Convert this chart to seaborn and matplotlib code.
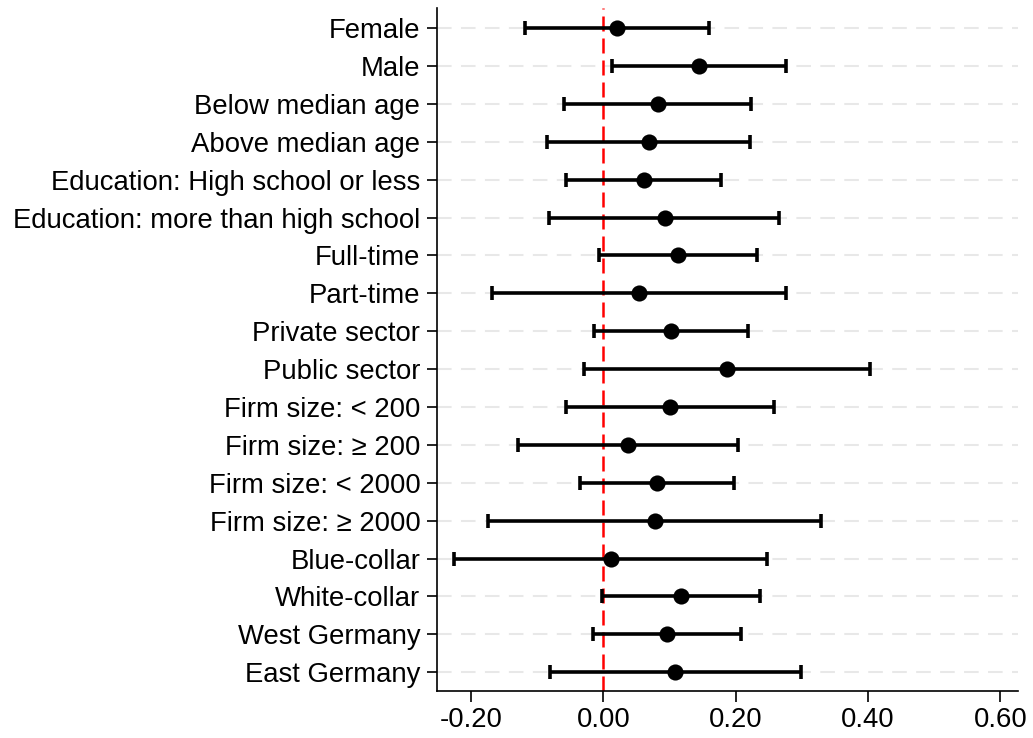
import numpy as np
import pandas as pd
import seaborn as sns
import matplotlib.pyplot as plt

labels = ['Female', 'Male', 'Below median age', 'Above median age',
          'Education: High school or less', 'Education: more than high school',
          'Full-time', 'Part-time', 'Private sector', 'Public sector',
          'Firm size: < 200', 'Firm size: \u2265 200', 'Firm size: < 2000',
          'Firm size: \u2265 2000', 'Blue-collar', 'White-collar',
          'West Germany', 'East Germany']
estimate = [0.021, 0.145, 0.082, 0.069, 0.061, 0.093, 0.113, 0.054, 0.102,
            0.187, 0.101, 0.037, 0.081, 0.078, 0.012, 0.118, 0.096, 0.108]
ci_low = [-0.118, 0.013, -0.059, -0.085, -0.056, -0.082, -0.006, -0.169, -0.014,
          -0.030, -0.057, -0.129, -0.036, -0.175, -0.225, -0.002, -0.016, -0.081]
ci_high = [0.160, 0.276, 0.223, 0.221, 0.178, 0.266, 0.233, 0.276, 0.218,
           0.403, 0.258, 0.203, 0.198, 0.329, 0.248, 0.237, 0.208, 0.298]
xticks = [-0.20, 0.00, 0.20, 0.40, 0.60]

df = pd.DataFrame({'group': labels, 'est': estimate, 'lo': ci_low, 'hi': ci_high})

sns.set_style('white')
plt.rcParams['font.family'] = ['Liberation Sans', 'DejaVu Sans']
plt.rcParams['text.color'] = 'black'
plt.rcParams['xtick.color'] = 'black'
plt.rcParams['ytick.color'] = 'black'

fig = plt.figure(figsize=(10.33, 7.38), dpi=100)
ax = fig.add_axes([0.423, 0.064, 0.562, 0.925])

pos = np.arange(len(df))
for y in pos:
    ax.axhline(y, color='#e8e8e8', lw=1.5, ls=(0, (7, 4.5)), zorder=0)
ax.axvline(0, color='red', lw=1.8, ls=(0, (6, 2.8)), zorder=1)

# confidence intervals
ax.errorbar(df['est'], pos, xerr=[df['est'] - df['lo'], df['hi'] - df['est']],
            fmt='none', ecolor='black', elinewidth=2.6, capsize=5, capthick=2.6, zorder=2)
sns.scatterplot(data=df, x='est', y='group', color='black', s=135,
                edgecolor='black', linewidth=0, zorder=3, ax=ax)

ax.set_ylim(len(df) - 0.51, -0.53)
ax.set_xlim(-0.2515, 0.626)
ax.set_xticks(xticks)
ax.set_xticklabels([f'{t:.2f}' for t in xticks])
ax.set_xlabel('')
ax.set_ylabel('')
sns.despine(ax=ax)
for s in ['left', 'bottom']:
    ax.spines[s].set_linewidth(1.2)
    ax.spines[s].set_color('black')
ax.tick_params(axis='y', length=7, width=1.2, labelsize=19.8, labelcolor='black', pad=5, left=True)
ax.tick_params(axis='x', length=8, width=1.2, labelsize=19.8, labelcolor='black', pad=4, bottom=True)

plt.savefig('out.png', dpi=100)
